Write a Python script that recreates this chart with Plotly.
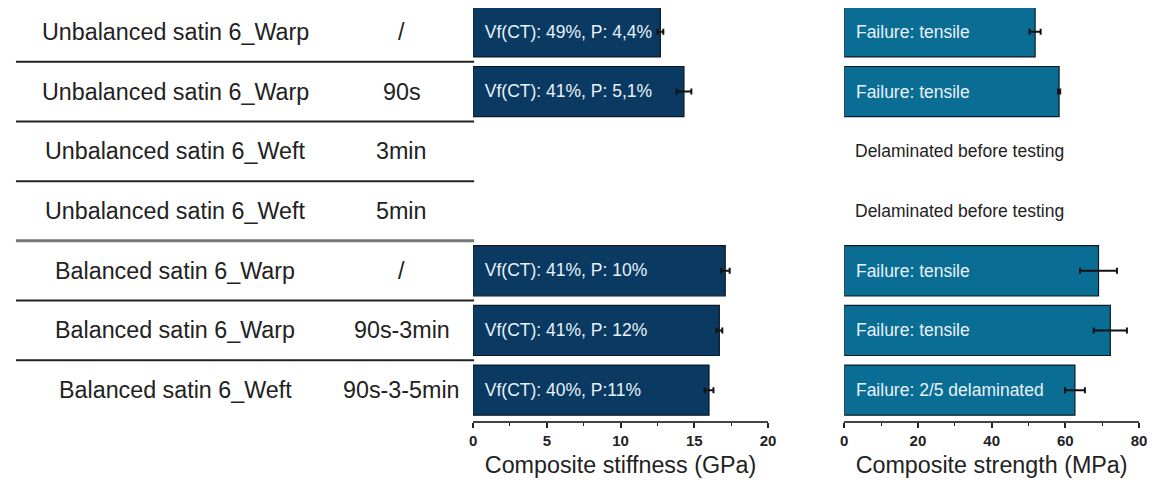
import plotly.graph_objects as go

# ---------------- data ----------------
fabrics = ["Unbalanced satin 6_Warp", "Unbalanced satin 6_Warp", "Unbalanced satin 6_Weft",
           "Unbalanced satin 6_Weft", "Balanced satin 6_Warp", "Balanced satin 6_Warp",
           "Balanced satin 6_Weft"]
treatments = ["/", "90s", "3min", "5min", "/", "90s-3min", "90s-3-5min"]
stiffness = [12.7, 14.3, None, None, 17.1, 16.7, 16.0]
stiffness_err = [0.2, 0.5, None, None, 0.3, 0.2, 0.3]
strength = [51.8, 58.3, None, None, 69.0, 72.2, 62.6]
strength_err = [1.5, 0.3, None, None, 5.0, 4.5, 2.7]
stiff_labels = ["Vf(CT): 49%, P: 4,4%", "Vf(CT): 41%, P: 5,1%", "", "",
                "Vf(CT): 41%, P: 10%", "Vf(CT): 41%, P: 12%", "Vf(CT): 40%, P:11%"]
strength_labels = ["Failure: tensile", "Failure: tensile", "", "",
                   "Failure: tensile", "Failure: tensile", "Failure: 2/5 delaminated"]
missing_note = "Delaminated before testing"

rows = [f"{f} | {t} | {i}" for i, (f, t) in enumerate(zip(fabrics, treatments))]

# page is 1162x486; the browser's default 8px body margin is left in place,
# so the figure is 16px smaller and page positions are shifted by 8px.
OFF = 8
FW, FH = 1162 - 2 * OFF, 486 - 2 * OFF


def px(xp):
    return (xp - OFF) / FW


def py(yp):
    return 1 - (yp - OFF) / FH


FONT = "Liberation Sans, Arial, sans-serif"
NAVY = "#0a3a62"
TEAL = "#0a6d94"
PAD = "\u2002"

fig = go.Figure()

fig.add_trace(go.Bar(
    x=stiffness, y=rows, orientation="h", xaxis="x", yaxis="y",
    marker=dict(color=NAVY, line=dict(color="#0d1a26", width=1.2)),
    width=0.84,
    error_x=dict(type="data", array=stiffness_err, color="#111", thickness=2, width=3),
    text=[PAD + s if s else "" for s in stiff_labels], textposition="inside",
    insidetextanchor="start",
    textfont=dict(color="#e8f2fa", size=18.2, family=FONT),
    cliponaxis=False, showlegend=False,
))
fig.add_trace(go.Bar(
    x=strength, y=rows, orientation="h", xaxis="x2", yaxis="y2",
    marker=dict(color=TEAL, line=dict(color="#0d1a26", width=1.2)),
    width=0.84,
    error_x=dict(type="data", array=strength_err, color="#111", thickness=2, width=3),
    text=[PAD + s if s else "" for s in strength_labels], textposition="inside",
    insidetextanchor="start",
    textfont=dict(color="#e8f2fa", size=17.5, family=FONT),
    cliponaxis=False, showlegend=False,
))

# plot area spans page y 8..421; rows are 59.7px apart with row 0 centred at y=32
ROW = 59.7
y_top = -0.5 + (OFF - 2) / ROW
y_bot = 6.5 + (421 - 420) / ROW
ydom = [py(421), 1.0]

common_x = dict(showgrid=False, zeroline=False, showline=True, linecolor="#444", linewidth=1.5,
                ticks="outside", ticklen=5, tickwidth=1.5, tickcolor="#222",
                tickfont=dict(size=15, family=FONT, color="#222", weight="bold"),
                minor=dict(ticks="outside", ticklen=3, tickwidth=1.2, tickcolor="#222"),
                title_font=dict(size=23.3, family=FONT, color="#222"), title_standoff=11)
common_y = dict(type="category", categoryorder="array", categoryarray=rows,
                range=[y_bot, y_top], autorange=False, showticklabels=False, showgrid=False,
                zeroline=False, showline=False, ticks="", domain=ydom)

fig.update_layout(
    width=FW, height=FH, margin=dict(l=0, r=0, t=0, b=0),
    paper_bgcolor="white", plot_bgcolor="white",
    font=dict(family=FONT),
    uniformtext=dict(minsize=17.5, mode="show"),
    xaxis=dict(domain=[px(474), px(772)], range=[0, 20], tickvals=[0, 5, 10, 15, 20],
               minor_dtick=2.5, title_text="Composite stiffness (GPa)", anchor="y", **common_x),
    yaxis=dict(anchor="x", **common_y),
    xaxis2=dict(domain=[px(849), px(1147)], range=[0, 80], tickvals=[0, 20, 40, 60, 80],
                minor_dtick=10, title_text="Composite strength (MPa)", anchor="y2", **common_x),
    yaxis2=dict(anchor="x2", **common_y),
)

# table text
for r, f, t in zip(rows, fabrics, treatments):
    fig.add_annotation(x=px(173), xref="paper", y=r, yref="y", text=f, showarrow=False,
                       font=dict(size=23.3, family=FONT, color="#222"), xanchor="center")
    fig.add_annotation(x=px(402), xref="paper", y=r, yref="y", text=t, showarrow=False,
                       font=dict(size=23.3, family=FONT, color="#222"), xanchor="center")

# notes for missing strength values
for r, v in zip(rows, strength):
    if v is None:
        fig.add_annotation(x=0, xref="x2", y=r, yref="y2", text=missing_note, showarrow=False,
                           xanchor="left", xshift=9,
                           font=dict(size=17.5, family=FONT, color="#222"))

# row separators
for i in range(len(rows) - 1):
    grey = (i == 3)
    fig.add_shape(type="line", xref="paper", yref="y", x0=px(12), x1=px(475),
                  y0=i + 0.5, y1=i + 0.5,
                  line=dict(color="#777" if grey else "#222", width=3 if grey else 2))

fig.write_html("out.html", config={"displayModeBar": False})
